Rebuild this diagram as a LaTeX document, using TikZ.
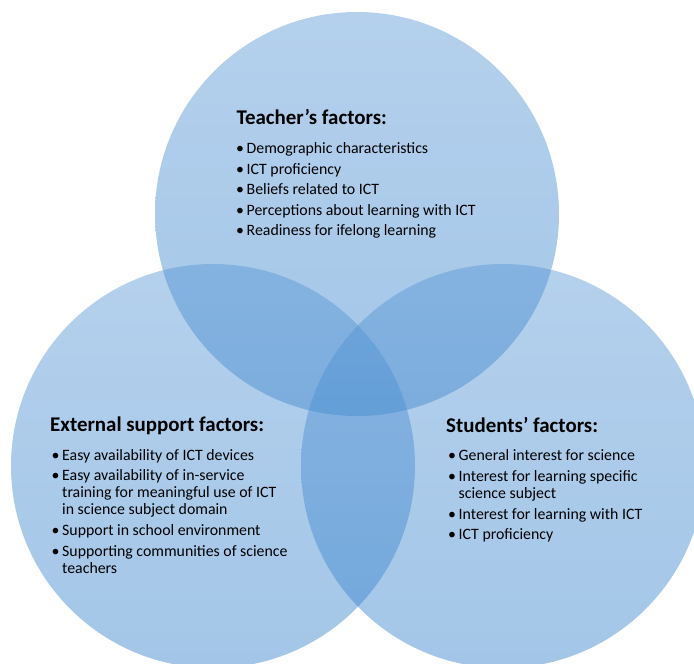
\documentclass[tikz,border=0pt]{standalone}
\usepackage{fontspec}
\setmainfont{Carlito}
\definecolor{cTop}{RGB}{89,151,213}
\definecolor{cBot}{RGB}{51,128,204}
\newcommand\bul{\makebox[10.5bp][l]{•}}
\begin{document}
\begin{tikzpicture}[x=1bp,y=-1bp,
  venn/.style={top color=cTop,bottom color=cBot,fill opacity=0.45,draw=none},
  ttl/.style={anchor=base west,inner sep=0pt,font=\fontsize{21}{24}\selectfont\bfseries},
  txt/.style={anchor=base west,inner sep=0pt,font=\fontsize{15.9}{18}\selectfont}]
\useasboundingbox (0,0) rectangle (694,664);
\clip (0,0) rectangle (694,664);
% circles
\shade[venn] (357,214) circle[radius=202bp];
\shade[venn] (213,466) circle[radius=202bp];
\shade[venn] (503,466) circle[radius=202bp];
% Teacher
\node[ttl] (tt) at (236.3,125) {Teacher’s factors:};
\node[txt] (t1) at (236,153.3) {\bul Demographic characteristics};
\node[txt] (t2) at (236,174) {\bul ICT proficiency};
\node[txt] (t3) at (236,194.3) {\bul Beliefs related to ICT};
\node[txt] (t4) at (236,215) {\bul Perceptions about learning with ICT};
\node[txt] (t5) at (236,235.7) {\bul Readiness for ifelong learning};
% External
\node[ttl] (et) at (50,431.7) {External support factors:};
\node[txt] (e1) at (51.5,460) {\bul Easy availability of ICT devices};
\node[txt] (e2) at (51.5,480.7) {\bul Easy availability of in-service};
\node[txt] (e2b) at (62,497.7) {training for meaningful use of ICT};
\node[txt] (e2c) at (62,514.3) {in science subject domain};
\node[txt] (e3) at (51.5,535.7) {\bul Support in school environment};
\node[txt] (e4) at (51.5,556) {\bul Supporting communities of science};
\node[txt] (e4b) at (62,573.3) {teachers};
% Students
\node[ttl] (st) at (446,432.3) {Students’ factors:};
\node[txt] (s1) at (448,460.7) {\bul General interest for science};
\node[txt] (s2) at (448,481) {\bul Interest for learning specific};
\node[txt] (s2b) at (458.5,498) {science subject};
\node[txt] (s3) at (448,519) {\bul Interest for learning with ICT};
\node[txt] (s4) at (448,539) {\bul ICT proficiency};
\end{tikzpicture}
\end{document}
